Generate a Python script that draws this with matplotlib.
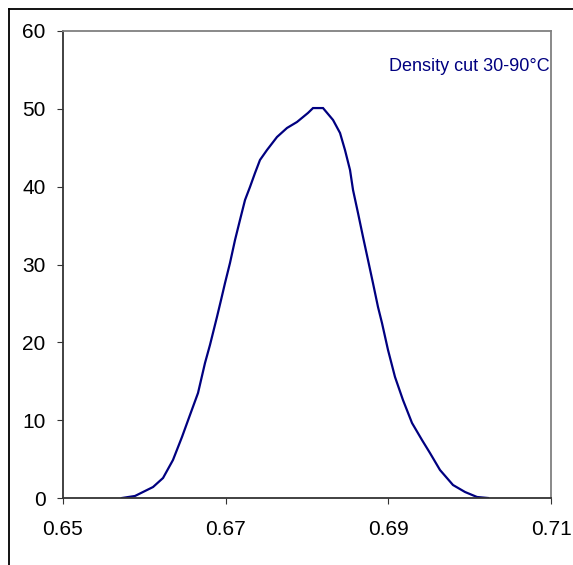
import matplotlib
matplotlib.use("Agg")
import matplotlib.pyplot as plt
from matplotlib.lines import Line2D

density = [0.65725, 0.65885, 0.66107, 0.66230, 0.66352, 0.66463, 0.66561, 0.66660,
           0.66746, 0.66807, 0.66893, 0.66943, 0.66992, 0.67053, 0.67115, 0.67176,
           0.67238, 0.67299, 0.67361, 0.67422, 0.67508, 0.67631, 0.67754, 0.67877,
           0.68012, 0.68074, 0.68197, 0.68320, 0.68406, 0.68467, 0.68529, 0.68566,
           0.68627, 0.68689, 0.68750, 0.68811, 0.68873, 0.68922, 0.68996, 0.69082,
           0.69180, 0.69291, 0.69414, 0.69512, 0.69635, 0.69795, 0.69943, 0.70090,
           0.70225]
frequency = [0.0, 0.26, 1.41, 2.57, 4.88, 7.84, 10.66, 13.49,
             17.35, 19.66, 23.26, 25.44, 27.62, 30.19, 33.15, 35.72,
             38.29, 39.96, 41.76, 43.43, 44.71, 46.38, 47.54, 48.31,
             49.47, 50.1, 50.1, 48.57, 46.90, 44.71, 42.14, 39.57,
             36.62, 33.53, 30.58, 27.62, 24.54, 22.48, 19.02, 15.55,
             12.59, 9.64, 7.45, 5.78, 3.60, 1.67, 0.77, 0.13,
             0.0]
x_ticks = [0.65, 0.67, 0.69, 0.71]
x_tick_labels = ["0.65", "0.67", "0.69", "0.71"]
y_ticks = [0, 10, 20, 30, 40, 50, 60]
label_text = "Density cut 30-90°C"

plt.rcParams['font.family'] = ['Liberation Sans', 'DejaVu Sans']

W, H = 573, 565
fig = plt.figure(figsize=(W / 100, H / 100), dpi=100)
ax = fig.add_axes([63 / W, 1 - 498 / H, (551 - 63) / W, (498 - 31) / H])

ax.plot(density, frequency, color='#000080', lw=1.6, solid_joinstyle='miter')

ax.set_xlim(0.65, 0.71)
ax.set_ylim(0, 60)
ax.set_xticks(x_ticks)
ax.set_xticklabels(x_tick_labels)
ax.set_yticks(y_ticks)

for s in ['left', 'bottom']:
    ax.spines[s].set_color('#333333')
    ax.spines[s].set_linewidth(1.3)
for s in ['top', 'right']:
    ax.spines[s].set_color('#808080')
    ax.spines[s].set_linewidth(1.3)

ax.tick_params(axis='both', direction='out', length=4.5, width=0.8, color='#333333',
               labelsize=15, labelcolor='black')
ax.tick_params(axis='y', pad=8)
ax.tick_params(axis='x', pad=11.5)

ax.text(0.997, 55.5, label_text, transform=ax.get_yaxis_transform(), ha='right', va='center',
        color='#000080', fontsize=13)

# outer chart border (left and top visible in the crop)
fig.add_artist(Line2D([8.5 / W, 8.5 / W], [0, 1 - 8.5 / H], transform=fig.transFigure,
                      color='black', lw=1.3))
fig.add_artist(Line2D([8.5 / W, 1], [1 - 8.5 / H, 1 - 8.5 / H], transform=fig.transFigure,
                      color='black', lw=1.3))

fig.savefig('out.png', dpi=100)
